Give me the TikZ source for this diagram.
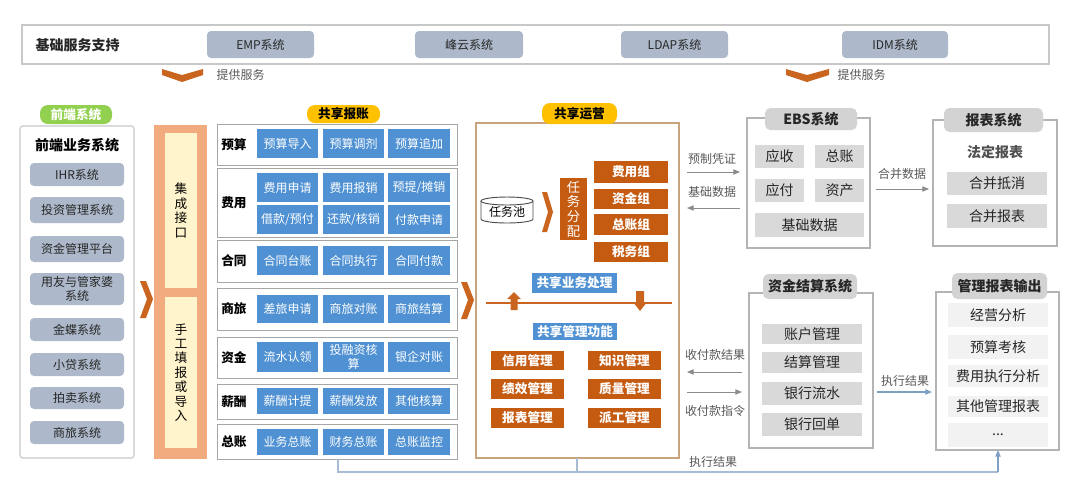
\documentclass[tikz,border=0pt]{standalone}
\usepackage{fontspec}
\setmainfont{Noto Sans CJK SC}
\usetikzlibrary{calc,arrows.meta}
\definecolor{sysgray}{HTML}{ADB9CA}
\definecolor{bluebx}{HTML}{4F91D2}
\definecolor{darkor}{HTML}{C55A11}
\definecolor{chevc}{HTML}{C9651E}
\definecolor{intout}{HTML}{F1AB7E}
\definecolor{intin}{HTML}{FFF4CC}
\definecolor{gold}{HTML}{FFC000}
\definecolor{greenp}{HTML}{92D050}
\definecolor{lgray}{HTML}{D9D9D9}
\definecolor{pgray}{HTML}{D3D3D3}
\definecolor{vlgray}{HTML}{F2F2F2}
\definecolor{framec}{HTML}{C8C8C8}
\definecolor{rowc}{HTML}{A6A6A6}
\definecolor{tanc}{HTML}{C8A47E}
\definecolor{txtc}{HTML}{262626}
\definecolor{lblc}{HTML}{595959}
\definecolor{arrc}{HTML}{8C8C8C}
\definecolor{bluel}{HTML}{A7BCD3}
\definecolor{bluea}{HTML}{7F9FC4}
\newcommand\bx[7][]{%
  \pgfmathsetmacro\bxw{(#5-#3)*0.75}%
  \pgfmathsetmacro\bxh{(#6-#4)*0.75}%
  \node[align=center,inner sep=0pt,outer sep=0pt,#1,minimum width=\bxw pt,minimum height=\bxh pt] (#2) at ({(#3+#5)/2},{(#4+#6)/2}) {#7};}
\begin{document}
\begin{tikzpicture}[x=0.75pt,y=-0.75pt,
  f9/.style={font=\fontsize{9}{11}\selectfont},
  f10/.style={font=\fontsize{10.5}{12.5}\selectfont},
  fb9/.style={font=\fontsize{9.5}{11}\selectfont\bfseries},
  fb10/.style={font=\fontsize{10.5}{12.5}\selectfont\bfseries},
  frameT/.style={draw=framec,line width=0.8pt,fill=white},
  frameL/.style={draw=framec,line width=0.8pt,fill=white,rounded corners=2pt},
  frameR/.style={draw=framec!90!black,line width=0.8pt,fill=white},
  rowframe/.style={draw=rowc,line width=0.7pt,fill=white},
  sysbox/.style={fill=sysgray,rounded corners=3pt,f9,text=txtc},
  bluebox/.style={fill=bluebx,f9,text=white},
  obox/.style={fill=darkor,fb9,text=white},
  gbox/.style={fill=lgray,f10,text=txtc},
  vbox/.style={fill=vlgray,f10,text=txtc},
  gpill/.style={fill=pgray,rounded corners=4pt,fb10,text=txtc},
  lbl/.style={f9,text=lblc,inner sep=1pt},
  rowlbl/.style={fb9,text=black,anchor=west,inner sep=0pt},
  garr/.style={draw=arrc,line width=0.7pt,-{Triangle[length=5pt,width=4pt]}},
  barr/.style={draw=bluea,line width=0.8pt,-{Triangle[length=5pt,width=4pt]}},
  bline/.style={draw=bluel,line width=0.8pt},
  cyl/.style={draw=black!70,line width=0.7pt,fill=white}
]
\useasboundingbox[fill=white] (0,0) rectangle (1080,501);

% ---------- top bar ----------
\bx[frameT]{top}{22}{25}{1049}{64}{}
\node[fb10,anchor=west,text=txtc] (toplbl) at (31,45) {基础服务支持};
\bx[sysbox]{emp}{207}{31}{314}{58}{EMP系统}
\bx[sysbox]{fy}{415}{31}{523}{58}{峰云系统}
\bx[sysbox]{ldap}{621}{31}{728}{58}{LDAP系统}
\bx[sysbox]{idm}{842}{31}{948}{58}{IDM系统}
\fill[chevc] (162,69) -- (182,75) -- (203,69) -- (203,75) -- (182,82) -- (162,75) -- cycle;
\node[lbl,anchor=west] (svc1) at (215,75) {提供服务};
\fill[chevc] (786,69) -- (807,75) -- (829,69) -- (829,75) -- (807,82) -- (786,75) -- cycle;
\node[lbl,anchor=west] (svc2) at (836,75) {提供服务};

% ---------- front-end systems ----------
\bx[frameL]{fe}{20}{126}{134}{458}{}
\bx[fill=greenp,rounded corners=6pt,fb9,text=white]{fepill}{40}{105}{112}{124}{前端系统}
\node[fb10,text=black] (fetitle) at (77,145) {前端业务系统};
\bx[sysbox]{ihr}{30}{163}{124}{186}{IHR系统}
\bx[sysbox]{tz}{30}{197}{124}{223}{投资管理系统}
\bx[sysbox]{zj}{30}{236}{124}{262}{资金管理平台}
\bx[sysbox,font=\fontsize{9}{10.5}\selectfont]{yy}{30}{273}{124}{305}{用友与管家婆\\系统}
\bx[sysbox]{jd}{30}{318}{124}{341}{金蝶系统}
\bx[sysbox]{xd}{30}{353}{124}{376}{小贷系统}
\bx[sysbox]{pm}{30}{387}{124}{409}{拍卖系统}
\bx[sysbox]{sl}{30}{421}{124}{444}{商旅系统}

\fill[chevc] (140,281) -- (146,281) -- (153,299) -- (146,318) -- (140,318) -- (147,299) -- cycle;

% ---------- integration column ----------
\bx[fill=intout]{intg}{154}{125}{207}{459}{}
\bx[fill=intin,font=\fontsize{9.5}{10.8}\selectfont,text=black]{jc}{165}{133}{197}{288}{集\\成\\接\\口}
\bx[fill=intin,font=\fontsize{9.5}{10.8}\selectfont,text=black]{sg}{165}{297}{197}{448}{手\\工\\填\\报\\或\\导\\入}

% ---------- shared accounting ----------
\bx[rowframe]{rys}{217}{124}{457}{165}{}
\bx[rowframe]{rfy}{217}{168}{457}{237}{}
\bx[rowframe]{rht}{217}{240}{457}{282}{}
\bx[rowframe]{rsl}{217}{288}{457}{330}{}
\bx[rowframe]{rzj}{217}{337}{457}{378}{}
\bx[rowframe]{rxc}{217}{384}{457}{419}{}
\bx[rowframe]{rzz}{217}{424}{457}{459}{}
\bx[fill=gold,rounded corners=6pt,fb9,text=black]{accpill}{307}{105}{380}{123}{共享报账}
\node[rowlbl] (lys) at (221,144.5) {预算};
\node[rowlbl] (lfy) at (221,202.5) {费用};
\node[rowlbl] (lht) at (221,261) {合同};
\node[rowlbl] (lsl) at (221,309) {商旅};
\node[rowlbl] (lzj) at (221,357.5) {资金};
\node[rowlbl] (lxc) at (221,401.5) {薪酬};
\node[rowlbl] (lzz) at (221,441.5) {总账};
% budget
\bx[bluebox]{b11}{257}{129}{318}{158}{预算导入}
\bx[bluebox]{b12}{323}{129}{384}{158}{预算调剂}
\bx[bluebox]{b13}{388}{129}{450}{158}{预算追加}
% expense
\bx[bluebox]{b21}{257}{173}{318}{202}{费用申请}
\bx[bluebox]{b22}{323}{173}{384}{202}{费用报销}
\bx[bluebox]{b23}{388}{173}{450}{202}{预提/摊销}
\bx[bluebox]{b24}{257}{205}{318}{234}{借款/预付}
\bx[bluebox]{b25}{323}{205}{384}{234}{还款/核销}
\bx[bluebox]{b26}{388}{205}{450}{234}{付款申请}
% contract
\bx[bluebox]{b31}{257}{246}{318}{275}{合同台账}
\bx[bluebox]{b32}{323}{246}{384}{275}{合同执行}
\bx[bluebox]{b33}{388}{246}{450}{275}{合同付款}
% travel
\bx[bluebox]{b41}{257}{295}{318}{323}{差旅申请}
\bx[bluebox]{b42}{323}{295}{384}{323}{商旅对账}
\bx[bluebox]{b43}{388}{295}{450}{323}{商旅结算}
% funds
\bx[bluebox]{b51}{257}{342}{318}{372}{流水认领}
\bx[bluebox,font=\fontsize{9}{10}\selectfont]{b52}{323}{342}{384}{372}{投融资核\\算}
\bx[bluebox]{b53}{388}{342}{450}{372}{银企对账}
% salary
\bx[bluebox]{b61}{257}{388}{318}{414}{薪酬计提}
\bx[bluebox]{b62}{323}{388}{384}{414}{薪酬发放}
\bx[bluebox]{b63}{388}{388}{450}{414}{其他核算}
% GL
\bx[bluebox]{b71}{257}{429}{318}{455}{业务总账}
\bx[bluebox]{b72}{323}{429}{384}{455}{财务总账}
\bx[bluebox]{b73}{388}{429}{450}{455}{总账监控}

\fill[chevc] (461,282) -- (467,282) -- (474,300) -- (467,319) -- (461,319) -- (468,300) -- cycle;

% ---------- shared operations ----------
\bx[draw=tanc,line width=0.9pt,fill=white]{ops}{476}{123}{679}{458}{}
\bx[fill=gold,rounded corners=6pt,fb9,text=black]{opspill}{542}{103}{617}{124}{共享运营}
\filldraw[cyl] (481,201) -- (481,219) arc[start angle=180,end angle=360,x radius=19.5pt,y radius=3pt] -- (533,201);
\draw[cyl] (507,201) ellipse[x radius=19.5pt,y radius=3pt];
\node[f9,text=black] (pool) at (507,212) {任务池};
\fill[chevc] (542,192) -- (547,192) -- (553,212) -- (547,232) -- (542,232) -- (548,212) -- cycle;
\bx[obox,font=\fontsize{10}{11}\selectfont,text=white]{rwfp}{560}{178}{587}{240}{任\\务\\分\\配}
\bx[obox]{g1}{594}{161}{668}{183}{费用组}
\bx[obox]{g2}{594}{189}{668}{209}{资金组}
\bx[obox]{g3}{594}{214}{668}{235}{总账组}
\bx[obox]{g4}{594}{242}{668}{262}{税务组}
\bx[fill=bluebx,fb9,text=white]{ywcl}{532}{273}{617}{293}{共享业务处理}
\draw[draw=chevc,line width=1pt] (ops.west |- 0,303) ++(10,0) coordinate (hl1) -- ($(ops.east |- 0,303)+(-7,0)$) coordinate (hl2);
\fill[chevc] (514,292) -- (521,299) -- (517.5,299) -- (517.5,310) -- (510.5,310) -- (510.5,299) -- (507,299) -- cycle;
\fill[chevc] (640,311) -- (647,302) -- (644,302) -- (644,291) -- (636,291) -- (636,302) -- (633,302) -- cycle;
\bx[fill=bluebx,fb9,text=white]{glgn}{533}{323}{617}{340}{共享管理功能}
\bx[obox]{m1}{491}{351}{564}{370}{信用管理}
\bx[obox]{m2}{588}{351}{661}{370}{知识管理}
\bx[obox]{m3}{491}{379}{564}{399}{绩效管理}
\bx[obox]{m4}{588}{379}{661}{399}{质量管理}
\bx[obox]{m5}{491}{408}{564}{428}{报表管理}
\bx[obox]{m6}{588}{408}{661}{428}{派工管理}

% ---------- EBS ----------
\bx[frameR]{ebs}{747}{118}{870}{248}{}
\bx[gpill]{ebspill}{765}{108}{857}{130}{EBS系统}
\bx[gbox]{e1}{755}{145}{804}{168}{应收}
\bx[gbox]{e2}{815}{145}{864}{168}{总账}
\bx[gbox]{e3}{755}{179}{804}{202}{应付}
\bx[gbox]{e4}{815}{179}{864}{202}{资产}
\bx[gbox]{e5}{755}{213}{864}{237}{基础数据}

% ---------- report system ----------
\bx[frameR]{rep}{933}{120}{1057}{246}{}
\bx[gpill]{reppill}{944}{108}{1043}{132}{报表系统}
\node[fb10,text=txtc!80] (fdbb) at (995,152) {法定报表};
\bx[gbox]{r1}{947}{172}{1047}{195}{合并抵消}
\bx[gbox]{r2}{947}{204}{1047}{228}{合并报表}

% ---------- fund settlement ----------
\bx[frameR]{fund}{749}{293}{873}{448}{}
\bx[gpill]{fundpill}{763}{274}{857}{299}{资金结算系统}
\bx[gbox]{s1}{762}{324}{862}{344}{账户管理}
\bx[gbox]{s2}{762}{352}{862}{373}{结算管理}
\bx[gbox]{s3}{762}{382}{862}{405}{银行流水}
\bx[gbox]{s4}{762}{413}{862}{436}{银行回单}

% ---------- management reports ----------
\bx[frameR]{mgmt}{936}{292}{1059}{450}{}
\bx[gpill]{mgmtpill}{952}{273}{1047}{299}{管理报表输出}
\bx[vbox]{t1}{948}{303}{1048}{327}{经营分析}
\bx[vbox]{t2}{948}{335}{1048}{359}{预算考核}
\bx[vbox]{t3}{948}{365}{1048}{387}{费用执行分析}
\bx[vbox]{t4}{948}{396}{1048}{417}{其他管理报表}
\bx[vbox]{t5}{948}{423}{1048}{447}{...}

% ---------- connectors ----------
\draw[garr] ($(ops.east |- 0,172)+(8,0)$) -- ($(ebs.west |- 0,172)+(-7,0)$);
\node[lbl] (l1) at (712,159) {预制凭证};
\draw[garr] ($(ebs.west |- 0,208)+(-7,0)$) -- ($(ops.east |- 0,208)+(8,0)$);
\node[lbl] (l2) at (712,192) {基础数据};
\draw[garr] ($(ebs.east |- 0,189)+(6,0)$) -- ($(rep.west |- 0,189)+(-4,0)$);
\node[lbl] (l3) at (902,174) {合并数据};
\draw[garr] ($(fund.west |- 0,372)+(-7,0)$) -- ($(ops.east |- 0,372)+(8,0)$);
\node[lbl] (l4) at (715,355) {收付款结果};
\draw[garr] ($(ops.east |- 0,392)+(8,0)$) -- ($(fund.west |- 0,392)+(-7,0)$);
\node[lbl] (l5) at (715,411) {收付款指令};
\draw[barr] ($(fund.east |- 0,392)+(4,0)$) -- ($(mgmt.west |- 0,392)+(-4,0)$);
\node[lbl] (l6) at (905,381) {执行结果};
\coordinate (bc) at (998,472);
\draw[bline] (rzz.south -| 338,0) |- (bc);
\draw[bline] (ops.south -| 577,0) -- (577,0 |- bc);
\draw[barr] (bc) -- (mgmt.south -| bc);
\node[lbl] (l7) at (713,462) {执行结果};
\end{tikzpicture}
\end{document}
